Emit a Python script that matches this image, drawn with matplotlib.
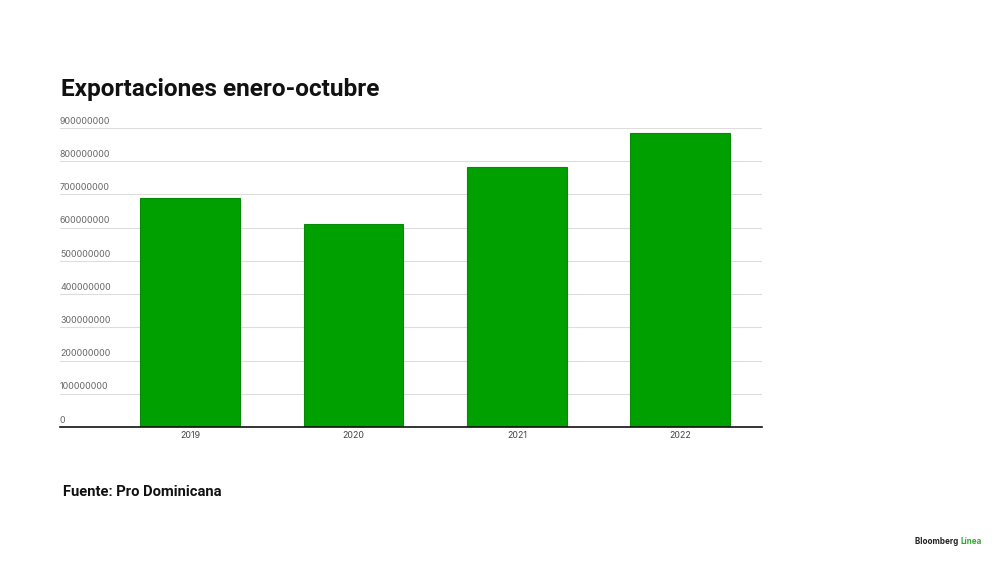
import matplotlib
matplotlib.use("Agg")
import matplotlib.pyplot as plt

years = ["2019", "2020", "2021", "2022"]
exports = [690000000, 611000000, 784000000, 886000000]
y_ticks = [0, 100000000, 200000000, 300000000, 400000000,
           500000000, 600000000, 700000000, 800000000, 900000000]

plt.rcParams['font.family'] = ['Inter', 'DejaVu Sans']

fig = plt.figure(figsize=(10, 5.62), dpi=100)
ax = fig.add_axes([0.06, 0.2402, 0.702, 0.532])

x = list(range(len(years)))
ax.bar(x, exports, width=0.61, color="#00a000", edgecolor="#078a07", linewidth=0.8, zorder=2)

ax.set_xlim(-0.795, 3.5)
ax.set_ylim(0, 900000000)
ax.set_yticks(y_ticks)
ax.set_yticklabels([])
ax.tick_params(axis="y", length=0)
for v in y_ticks:
    ax.text(0.0, v + 7000000, str(v), transform=ax.get_yaxis_transform(),
            fontsize=6.4, color="#666666", ha="left", va="bottom")
ax.grid(axis="y", color="#dddddd", linewidth=0.8, zorder=0)

ax.set_xticks(x)
ax.set_xticklabels(years, fontsize=6.4, color="#444444")
ax.tick_params(axis="x", length=0, pad=3)

for s in ["top", "right", "left"]:
    ax.spines[s].set_visible(False)
ax.spines["bottom"].set_color("#111111")
ax.spines["bottom"].set_linewidth(1.2)

fig.text(0.061, 0.84, "Exportaciones enero-octubre", fontsize=17.6, fontweight="bold",
         family=["Roboto", "DejaVu Sans"], color="#111111", ha="left", va="center")
fig.text(0.063, 0.124, "Fuente: Pro Dominicana", fontsize=10.6, fontweight="bold",
         family=["Roboto", "DejaVu Sans"], color="#111111", ha="left", va="center")

t = fig.text(0.915, 0.037, "Bloomberg ", fontsize=5.8, fontweight="bold",
             color="#222222", ha="left", va="center")
fig.canvas.draw()
bb = t.get_window_extent()
fig.text(bb.x1 / 1000, 0.037, "Línea", fontsize=5.8, fontweight="bold",
         color="#2eaa2e", ha="left", va="center")

fig.savefig("out.png", dpi=100)
